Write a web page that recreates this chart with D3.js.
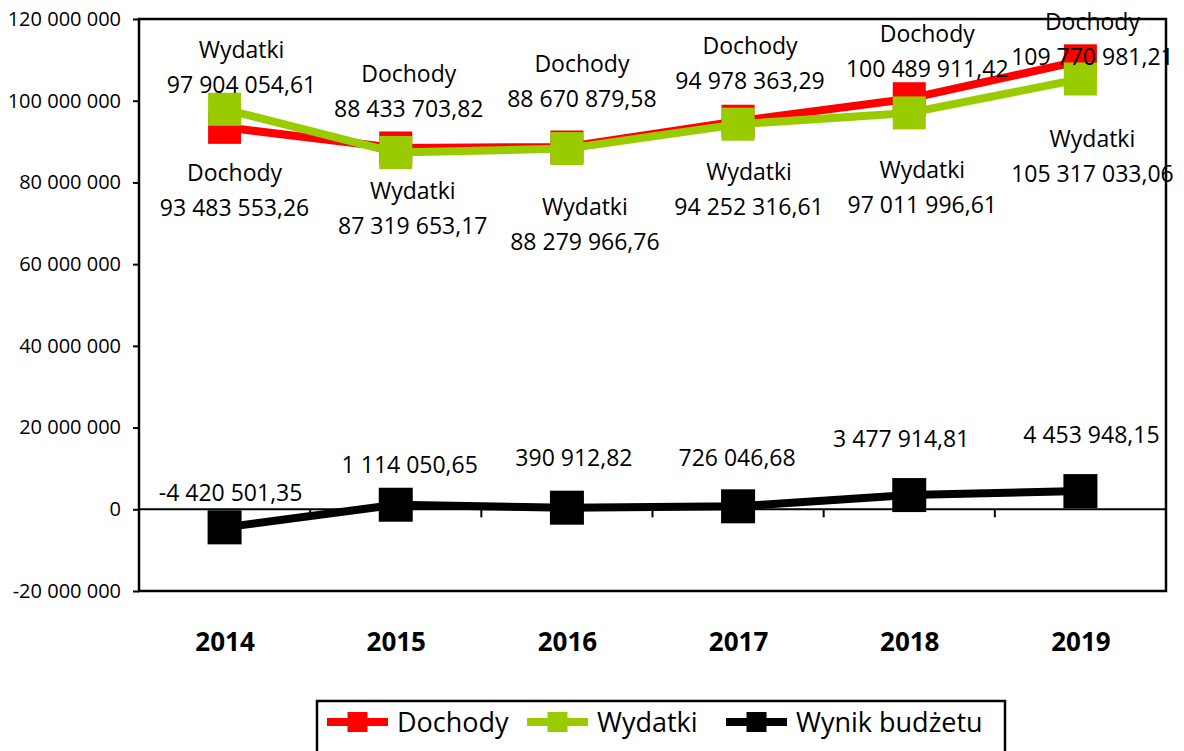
<!DOCTYPE html>
<html>
<head>
<meta charset="utf-8">
<script src="https://cdn.jsdelivr.net/npm/d3@7"></script>
<style>
  body { margin: 0; background: #fff; }
  svg { display: block; font-family: "Open Sans", sans-serif; }
</style>
</head>
<body>
<svg id="chart" width="1184" height="751"></svg>
<script>
// data
const years = ['2014', '2015', '2016', '2017', '2018', '2019'];
const dochody = [93483553.26, 88433703.82, 88670879.58, 94978363.29, 100489911.42, 109770981.21];
const wydatki = [97904054.61, 87319653.17, 88279966.76, 94252316.61, 97011996.61, 105317033.06];
const wynik = [-4420501.35, 1114050.65, 390912.82, 726046.68, 3477914.81, 4453948.15];
const yTicks = [-20000000, 0, 20000000, 40000000, 60000000, 80000000, 100000000, 120000000];

// label placement (px offsets of the value line from its point)
const dochodyLabelPos = [[10, 80], [13, -39], [15, -48], [12, -41], [18, -30], [12, -4]];
const wydatkiLabelPos = [[17, -25], [17, 73], [18, 93], [11, 83], [13, 92], [12, 95]];
const wynikLabelPos = [[6, -35], [14, -40], [7, -50], [-1, -49], [-8, -56], [11, -56]];

const series = [
  { name: 'Dochody', values: dochody, color: '#ff0000', size: 33, pos: dochodyLabelPos, twoLine: true },
  { name: 'Wydatki', values: wydatki, color: '#99cc00', size: 33, pos: wydatkiLabelPos, twoLine: true },
  { name: 'Wynik budżetu', values: wynik, color: '#000000', size: 34, pos: wynikLabelPos, twoLine: false },
];

const pl = d3.formatLocale({ decimal: ',', thousands: ' ', grouping: [3], currency: ['', ' zł'], minus: '-' });
const fmtTick = pl.format(',.0f');
const fmtVal = pl.format(',.2f');

const svg = d3.select('#chart');
const plotL = 139, plotR = 1166, plotT = 19, plotB = 591;

const x = d3.scalePoint().domain(years).range([plotL, plotR]).padding(0.5);
const y = d3.scaleLinear().domain([-20000000, 120000000]).range([plotB, plotT]);

// y axis
svg.append('g')
  .attr('transform', `translate(${plotL},0)`)
  .call(d3.axisLeft(y).tickValues(yTicks).tickFormat(fmtTick).tickSize(6).tickPadding(12))
  .call(g => g.select('.domain').remove())
  .call(g => g.selectAll('line').attr('stroke', '#000').attr('stroke-width', 2))
  .call(g => g.selectAll('text').attr('fill', '#000').style('font-size', '20px')
    .style('font-family', '"Open Sans", sans-serif'));

// zero line + category boundary ticks
svg.append('line')
  .attr('x1', plotL).attr('x2', plotR)
  .attr('y1', y(0)).attr('y2', y(0))
  .attr('stroke', '#000').attr('stroke-width', 2);

svg.append('g').selectAll('line')
  .data(years.slice(0, -1))
  .join('line')
  .attr('x1', d => x(d) + x.step() / 2).attr('x2', d => x(d) + x.step() / 2)
  .attr('y1', y(0)).attr('y2', y(0) + 8)
  .attr('stroke', '#000').attr('stroke-width', 2);

// year labels
svg.append('g')
  .attr('transform', `translate(0,${plotB})`)
  .call(d3.axisBottom(x).tickSize(0).tickPadding(42))
  .call(g => g.select('.domain').remove())
  .call(g => g.selectAll('text').attr('fill', '#000').style('font-size', '26px')
    .style('font-weight', 'bold').style('font-family', '"Open Sans", sans-serif'));

// plot frame
svg.append('rect')
  .attr('x', plotL).attr('y', plotT)
  .attr('width', plotR - plotL).attr('height', plotB - plotT)
  .attr('fill', 'none').attr('stroke', '#000').attr('stroke-width', 2.5);

// lines and markers
const line = d3.line().x((d, i) => x(years[i])).y(d => y(d));

series.forEach(s => {
  svg.append('path')
    .datum(s.values)
    .attr('d', line)
    .attr('fill', 'none')
    .attr('stroke', s.color)
    .attr('stroke-width', 8)
    .attr('stroke-linejoin', 'round');

  svg.append('g').selectAll('rect')
    .data(s.values)
    .join('rect')
    .attr('x', (d, i) => x(years[i]) - s.size / 2)
    .attr('y', d => y(d) - s.size / 2)
    .attr('width', s.size).attr('height', s.size)
    .attr('fill', s.color);
});

// data labels
series.forEach(s => {
  const g = svg.append('g').style('font-size', '23px').attr('text-anchor', 'middle').attr('fill', '#000');
  s.values.forEach((v, i) => {
    const cx = x(years[i]) + s.pos[i][0];
    const cy = y(v) + s.pos[i][1];
    g.append('text').attr('x', cx).attr('y', cy).attr('dy', '0.36em').text(fmtVal(v));
    if (s.twoLine) {
      g.append('text').attr('x', cx).attr('y', cy - 35).attr('dy', '0.36em').text(s.name);
    }
  });
});

// legend
const legendX = [327, 527, 726];
const ly = 722;
svg.append('rect')
  .attr('x', 317).attr('y', 701)
  .attr('width', 688).attr('height', 70)
  .attr('fill', '#fff').attr('stroke', '#000').attr('stroke-width', 2.5);

const items = svg.append('g').selectAll('g')
  .data(series)
  .join('g')
  .attr('transform', (d, i) => `translate(${legendX[i]},${ly})`);

items.append('line')
  .attr('x1', 0).attr('x2', 61)
  .attr('stroke', d => d.color).attr('stroke-width', 8);
items.append('rect')
  .attr('x', 20.5).attr('y', -10)
  .attr('width', 20).attr('height', 20)
  .attr('fill', d => d.color);
items.append('text')
  .attr('x', 70).attr('dy', '0.36em')
  .style('font-size', '27px')
  .text(d => d.name);
</script>
</body>
</html>
